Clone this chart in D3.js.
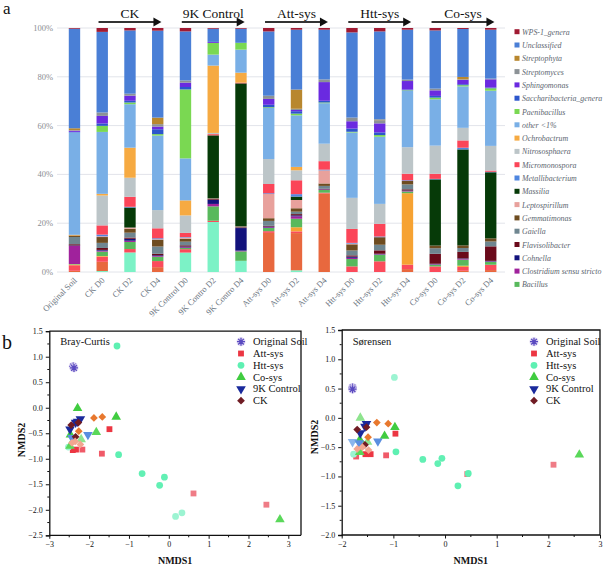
<!DOCTYPE html>
<html><head><meta charset="utf-8">
<script src="https://cdn.jsdelivr.net/npm/d3@7"></script>
<style>body{margin:0;background:#fff}svg{display:block}</style>
</head><body>
<svg id="c" width="604" height="566"></svg>
<script>
// ---------- DATA ----------
const samples = ["Original Soil","CK D0","CK D2","CK D4","9K Control D0","9K Contro D2","9K Contro D4",
  "Att-sys D0","Att-sys D2","Att-sys D4","Htt-sys D0","Htt-sys D2","Htt-sys D4","Co-sys D0","Co-sys D2","Co-sys D4"];
const groupNames = ["CK","9K Control","Att-sys","Htt-sys","Co-sys"];
const groupFirst = ["CK D0","9K Control D0","Att-sys D0","Htt-sys D0","Co-sys D0"];
const groupLast  = ["CK D4","9K Contro D4","Att-sys D4","Htt-sys D4","Co-sys D4"];
// stack order bottom -> top
const genera = ["Alicyclobacillus","Acidithiobacillus","Acidiphilium","Sulfobacillus","Bacillus",
  "Clostridium sensu stricto","Cohnella","Flavisolibacter","Gaiella","Gemmatimonas","Leptospirillum",
  "Massilia","Metallibacterium","Micromonospora","Nitrososphaera","Ochrobactrum","other <1%",
  "Paenibacillus","Saccharibacteria_genera","Sphingomonas","Streptomyces","Streptophyta","Unclassified","WPS-1_genera"];
const legendCount = 20; // entries visible in the legend (top of stack downwards)
const abundance = [
  [0,0.4,8,0,8,20.5,4.6,0,0.7,0,0,0,0,0,0,0],
  [0.5,3.8,0,2.0,0,0,0,16,15.3,32.4,0,0,1.2,0,0.5,0.8],
  [2.3,2.1,1.4,2.5,1.4,0.5,0,0.7,0.7,0.3,2.3,4.4,1.8,2.3,1.6,2.2],
  [0.3,0.3,0,0,0,0,0,0,1.7,0,0,0,29.4,0,0.5,0],
  [0.2,1.8,2.9,1.8,0.5,5.9,3.9,1.3,3.5,1.1,3.0,2.7,0.7,0.7,2.5,1.2],
  [7.5,0.4,0.5,0.3,0.3,1.0,0.3,0.3,1.0,0.2,0.5,0.2,0.2,0.2,0.3,0.2],
  [0.2,0.3,0.8,0.3,0.3,1.7,9.3,0.3,0.4,0.1,0.5,0.2,0.2,0.2,0.2,0.2],
  [0.5,0.8,0.5,0.6,0.5,0.3,0.3,0.3,0.5,0.2,0.5,1.4,0.5,4.1,2.7,6],
  [3.0,2.1,2.0,3.0,1.5,0.2,0.3,2.0,1.0,1.2,2.0,2.3,2.0,2.3,1.6,2.0],
  [0.6,2.4,1.6,2.8,1.2,0.2,0.2,1.1,1.4,1.0,2.5,3.1,1.4,1.1,1.1,1.3],
  [0,0.3,0.5,0.2,0.5,0,0,9.9,3.4,5.4,0.3,0,0,0,0,0],
  [0,0,8.2,0,0,25.7,58.8,0,1.4,0,0,0,0,27.3,39.6,27.3],
  [0,0.7,0.3,0.4,0.2,0,0,0.3,1.0,0.3,0.3,0.3,0.3,0.2,0.7,0.2],
  [0,3.8,4.1,4.1,1.7,0.5,0.3,3.8,5.7,3.5,5.7,5.2,2.7,2.1,3.0,0.5],
  [0,12.3,7.8,7.5,7.2,0.5,0,10.2,4.1,7.2,12.7,8.2,10.9,11.6,5.2,10.2],
  [0.3,0.7,12.3,0,6.2,27.6,4.1,0,1.4,0,0,0,0,0,0,0],
  [42.4,25.5,17.8,30.7,17.3,4.5,9.5,20.9,21.2,16.7,26.7,27.6,23.2,19.1,17.1,22.8],
  [0,2.5,0.7,0.6,28.4,4.8,2.8,0.3,0.7,0.3,0.3,0.7,0.2,0.7,0.5,1.0],
  [0.2,1.0,0.7,2.0,1.0,0,0,1.0,1.0,0.7,1.3,1.1,0.3,0.7,0.4,0.3],
  [0.5,3.1,2.1,1.1,1.8,0.4,0,2.4,0.5,7.7,3.0,3.7,3.5,2.3,1.8,3.4],
  [0.2,1.4,0.8,1.0,0.9,0,0,1.3,0.5,1.1,1.5,1.3,0.6,0.7,0.2,0.3],
  [0.8,0,0,2.7,0,0,0,0,7.9,0,0,0.3,0,0,1.0,0],
  [41.2,33.2,25.9,35.8,20.2,5.4,5.8,26.3,24.6,20.5,34.8,36.2,20.5,24,19.8,20.2],
  [0.3,1.6,1.0,1.1,1.4,0.3,0.3,1.4,0.7,0.7,1.8,1.4,0.7,1.0,0.4,0.7]
];
const yTicks = [0,0.2,0.4,0.6,0.8,1.0];

// NMDS
const nmdsGroups = ["Original Soil","Att-sys","Htt-sys","Co-sys","9K Control","CK"];
const brayCurtis = [
  ["Att-sys","D0",-1.49,-0.42],["Att-sys","D2",-1.68,-0.90],["Att-sys","D4",0.62,-1.68],["Att-sys","D4",2.45,-1.90],
  ["Att-sys","D0",-2.41,-0.83],["Att-sys","D0",-2.33,-0.82],["Att-sys","D2",-2.17,-0.82],
  ["Htt-sys","D0",-1.30,1.21],["Htt-sys","D0",-1.26,-0.92],["Htt-sys","D2",-0.67,-1.29],["Htt-sys","D2",-0.11,-1.36],
  ["Htt-sys","D2",-0.23,-1.52],["Htt-sys","D4",0.17,-2.13],["Htt-sys","D4",0.33,-2.06],["Htt-sys","D4",-2.52,-0.77],
  ["Co-sys","D0",-2.29,-0.01],["Co-sys","D0",-1.32,-0.18],["Co-sys","D2",-1.82,-0.48],["Co-sys","D0",-2.47,-0.53],
  ["Co-sys","D2",-2.48,-0.75],["Co-sys","D2",2.79,-2.19],["Co-sys","D4",-2.20,-0.62],
  ["9K Control","D0",-2.22,-0.22],["9K Control","D0",-2.34,-0.29],["9K Control","D0",-2.48,-0.42],
  ["9K Control","D2",-2.03,-0.53],["9K Control","D2",-2.43,-0.59],["9K Control","D0",-2.29,-0.27],
  ["CK","D2",-1.67,-0.18],["CK","D2",-1.88,-0.20],["CK","D2",-2.26,-0.46],
  ["CK","D0",-2.45,-0.34],["CK","D0",-2.27,-0.29],["CK","D0",-2.34,-0.57],
  ["CK","D4",-2.35,-0.66],["CK","D4",-2.22,-0.72],["CK","D4",-2.43,-0.69],
  ["Original Soil","D0",-2.40,0.81],["Original Soil","D0",-2.38,0.78]
];
const sorensen = [
  ["Att-sys","D0",-0.96,-0.27],["Att-sys","D2",-1.14,-0.64],["Att-sys","D0",-1.44,-0.62],["Att-sys","D0",-1.54,-0.62],
  ["Att-sys","D2",-1.72,-0.66],["Att-sys","D4",0.43,-0.96],["Att-sys","D4",2.10,-0.80],
  ["Htt-sys","D4",-0.98,0.69],["Htt-sys","D0",-0.95,-0.58],["Htt-sys","D2",-0.43,-0.71],["Htt-sys","D2",-0.06,-0.69],
  ["Htt-sys","D2",-0.14,-0.78],["Htt-sys","D0",0.25,-1.16],["Htt-sys","D0",0.45,-0.95],["Htt-sys","D4",-1.77,-0.62],
  ["Co-sys","D4",-1.64,0.0],["Co-sys","D0",-0.97,-0.16],["Co-sys","D0",-1.17,-0.31],["Co-sys","D0",-1.65,-0.375],
  ["Co-sys","D2",-1.65,-0.585],["Co-sys","D2",2.60,-0.63],["Co-sys","D4",-1.50,-0.41],
  ["9K Control","D0",-1.52,-0.10],["9K Control","D0",-1.64,-0.26],["9K Control","D4",-1.79,-0.41],
  ["9K Control","D2",-1.30,-0.40],["9K Control","D2",-1.66,-0.43],["9K Control","D0",-1.55,-0.15],
  ["CK","D2",-1.32,-0.08],["CK","D2",-1.10,-0.10],["CK","D2",-1.49,-0.33],
  ["CK","D0",-1.70,-0.20],["CK","D0",-1.52,-0.16],["CK","D0",-1.55,-0.46],
  ["CK","D4",-1.70,-0.53],["CK","D4",-1.48,-0.55],["CK","D4",-1.60,-0.50],
  ["Original Soil","D0",-1.79,0.52],["Original Soil","D0",-1.79,0.49]
];

// ---------- STYLE ----------
const genusColor = {
  "Alicyclobacillus":"#7cf2c6","Acidithiobacillus":"#e8683e","Acidiphilium":"#fb4b5b","Sulfobacillus":"#f6a232",
  "Bacillus":"#58b95c","Clostridium sensu stricto":"#a0229c","Cohnella":"#12127c","Flavisolibacter":"#6a0a1a",
  "Gaiella":"#6f8690","Gemmatimonas":"#6e4c20","Leptospirillum":"#e8a19c","Massilia":"#063a08",
  "Metallibacterium":"#4f86e0","Micromonospora":"#fb4558","Nitrososphaera":"#bcc5c8","Ochrobactrum":"#f6aa42",
  "other <1%":"#79afe6","Paenibacillus":"#7ad852","Saccharibacteria_genera":"#2c56cc","Sphingomonas":"#6a2ae0",
  "Streptomyces":"#8c9296","Streptophyta":"#b8872e","Unclassified":"#4a7fd6","WPS-1_genera":"#a01a32"
};
const shade = {
  "Original Soil":["#5a4ac0","#5a4ac0","#5a4ac0"],
  "Att-sys":["#ec3642","#f05a68","#ef7c86"],
  "Htt-sys":["#5ef0b2","#62f0b4","#9cf4d2"],
  "Co-sys":["#40cc40","#5ad85a","#8ee48e"],
  "9K Control":["#1a2a9c","#5a8ee0","#8ab6ec"],
  "CK":["#701c24","#e8782e","#f2a690"]
};
const dayIdx = {D0:0,D2:1,D4:2};
const serif = "'Liberation Serif','Times New Roman',serif";

const svg = d3.select("#c");
svg.append("rect").attr("width",604).attr("height",566).attr("fill","#fff");

// ---------- PANEL a ----------
const x = d3.scaleBand().domain(samples).range([60.6,504.6]).paddingInner(0.59).paddingOuter(0.295);
const y = d3.scaleLinear().domain([0,1]).range([272,28]);

const table = samples.map((s,i)=>{const o={sample:s};genera.forEach((g,j)=>o[g]=abundance[j][i]);return o;});
const series = d3.stack().keys(genera).offset(d3.stackOffsetExpand)(table);

const ga = svg.append("g");
ga.selectAll("line.grid").data(yTicks).join("line")
  .attr("x1",57).attr("x2",505).attr("y1",d=>y(d)).attr("y2",d=>y(d))
  .attr("stroke","#e2e4ea").attr("stroke-width",1);
ga.selectAll("text.yl").data(yTicks).join("text")
  .attr("x",53).attr("y",d=>y(d)+3).attr("text-anchor","end")
  .attr("font-family",serif).attr("font-size",8.5).attr("fill","#8a8e94")
  .text(d=>d3.format(".0%")(d));

ga.selectAll("g.s").data(series).join("g").attr("fill",d=>genusColor[d.key])
  .selectAll("rect").data(d=>d).join("rect")
  .attr("x",d=>x(d.data.sample)).attr("width",x.bandwidth())
  .attr("y",d=>y(d[1])).attr("height",d=>Math.max(0,y(d[0])-y(d[1])));

// x labels
ga.selectAll("text.xl").data(samples).join("text")
  .attr("transform",d=>`translate(${x(d)+x.bandwidth()/2+3},281) rotate(-45)`)
  .attr("text-anchor","end").attr("font-family",serif).attr("font-size",8.5).attr("fill","#6a7480")
  .text(d=>d);

// group arrows
groupNames.forEach((g,i)=>{
  const x1 = x(groupFirst[i])+2, x2 = x(groupLast[i])+x.bandwidth()-2;
  ga.append("line").attr("x1",x1).attr("x2",x2-6).attr("y1",22).attr("y2",22)
    .attr("stroke","#333").attr("stroke-width",1.8);
  ga.append("path").attr("d",`M${x2-8},17.5L${x2},22L${x2-8},26.5Z`).attr("fill","#111");
  ga.append("text").attr("x",(x1+x2)/2).attr("y",18).attr("text-anchor","middle")
    .attr("font-family",serif).attr("font-size",13.5).attr("fill","#111").text(g);
});

// legend
const legendItems = genera.slice(genera.length-legendCount).reverse();
const lg = ga.append("g");
legendItems.forEach((g,i)=>{
  const yy = 31.7 + i*13.3;
  lg.append("rect").attr("x",514.5).attr("y",yy-2.5).attr("width",5).attr("height",5).attr("fill",genusColor[g]);
  lg.append("text").attr("x",522).attr("y",yy+3).attr("font-family",serif).attr("font-style","italic")
    .attr("font-size",7.9).attr("fill","#5c6670").text(g);
});

svg.append("text").attr("x",3).attr("y",14).attr("font-family",serif).attr("font-size",17).attr("fill","#111").text("a");
svg.append("text").attr("x",2).attr("y",349).attr("font-family",serif).attr("font-size",20).attr("fill","#111").text("b");

// ---------- PANEL b ----------
function marker(group){
  if(group==="Original Soil") return "M-4,0L4,0M-2.8,-2.8L2.8,2.8M-2.8,2.8L2.8,-2.8M0,-4L0,4";
  if(group==="Att-sys") return d3.symbol(d3.symbolSquare,34)();
  if(group==="Htt-sys") return d3.symbol(d3.symbolCircle,36)();
  if(group==="Co-sys") return d3.symbol(d3.symbolTriangle,40)();
  if(group==="9K Control") return d3.symbol(d3.symbolTriangle,40)();
  return d3.symbol(d3.symbolSquare,30)();
}
function rot(group){ return group==="9K Control"?" rotate(180)":group==="CK"?" rotate(45)":""; }
function drawPoint(g,group,col,px,py){
  const p = g.append("path").attr("d",marker(group)).attr("transform",`translate(${px},${py})${rot(group)}`);
  if(group==="Original Soil"){
    g.insert("circle",":last-child").attr("cx",px).attr("cy",py).attr("r",4.5).attr("fill","#d8d0f0").attr("opacity",0.8);
    p.attr("fill","none").attr("stroke",col).attr("stroke-width",1.3);
  } else p.attr("fill",col);
}

function nmds(cfg){
  const g = svg.append("g");
  const sx = d3.scaleLinear().domain(cfg.xd).range(cfg.xr);
  const sy = d3.scaleLinear().domain(cfg.yd).range(cfg.yr);
  const L=cfg.xr[0], R=cfg.right, T=sy(cfg.yd[1]), B=cfg.yr[0];
  // frame
  g.append("path").attr("d",`M${L},${T}L${R},${T}L${R},${B}`).attr("fill","none").attr("stroke","#111").attr("stroke-width",1.3);
  const ax = d3.axisBottom(sx).tickValues(d3.range(cfg.xd[0],cfg.xd[1]+0.01,1)).tickSize(3.5).tickFormat(d3.format("d"));
  const gx = g.append("g").attr("transform",`translate(0,${B})`).call(ax);
  const ay = d3.axisLeft(sy).tickValues(d3.range(cfg.yd[0],cfg.yd[1]+0.01,0.5)).tickSize(3.5).tickFormat(d3.format(".1f"));
  const gy = g.append("g").attr("transform",`translate(${L},0)`).call(ay);
  [gx,gy].forEach(a=>{
    a.select(".domain").attr("stroke","#111").attr("stroke-width",1.3);
    a.selectAll(".tick line").attr("stroke","#111").attr("stroke-width",1);
    a.selectAll("text").attr("font-family",serif).attr("font-size",8).attr("fill","#111");
  });
  gx.select(".domain").attr("d",`M${L},0H${R}`);
  // minor ticks
  g.selectAll("line.mx").data(d3.range(cfg.xd[0]+0.5,cfg.xd[1],1)).join("line")
    .attr("x1",d=>sx(d)).attr("x2",d=>sx(d)).attr("y1",B).attr("y2",B+2).attr("stroke","#111");
  g.selectAll("line.my").data(d3.range(cfg.yd[0]+0.25,cfg.yd[1],0.5)).join("line")
    .attr("y1",d=>sy(d)).attr("y2",d=>sy(d)).attr("x1",L).attr("x2",L-2).attr("stroke","#111");
  g.append("text").attr("x",(L+R)/2+cfg.lx).attr("y",564).attr("text-anchor","middle")
    .attr("font-family",serif).attr("font-weight","bold").attr("font-size",10).attr("fill","#111").text("NMDS1");
  g.append("text").attr("transform",`translate(${cfg.ny[0]},${cfg.ny[1]}) rotate(-90)`).attr("text-anchor","middle")
    .attr("font-family",serif).attr("font-weight","bold").attr("font-size",10).attr("fill","#111").text("NMDS2");
  g.append("text").attr("x",L+11).attr("y",345).attr("font-family",serif).attr("font-size",10.5).attr("fill","#111").text(cfg.title);
  // points
  const pg = g.append("g");
  cfg.data.forEach(d=>drawPoint(pg,d[0],shade[d[0]][dayIdx[d[1]]],sx(d[2]),sy(d[3])));
  // legend
  nmdsGroups.forEach((gr,i)=>{
    const yy = 341.7 + i*11.8;
    const lg2 = g.append("g");
    drawPoint(lg2,gr,shade[gr][0],cfg.legx,yy);
    g.append("text").attr("x",cfg.legx+12).attr("y",yy+3.5).attr("font-family",serif).attr("font-size",10.5)
      .attr("fill","#111").text(gr);
  });
}
nmds({xd:[-3,3],xr:[49.3,288.3],right:301,yd:[-2.5,1.5],yr:[535.3,331.2],data:brayCurtis,title:"Bray-Curtis",
  legx:241,lx:0,ny:[25,440]});
nmds({xd:[-2,3],xr:[341.7,600],right:600,yd:[-2,1.5],yr:[535,330],data:sorensen,title:"Sørensen",
  legx:534,lx:0,ny:[318,437]});
</script>
</body></html>
